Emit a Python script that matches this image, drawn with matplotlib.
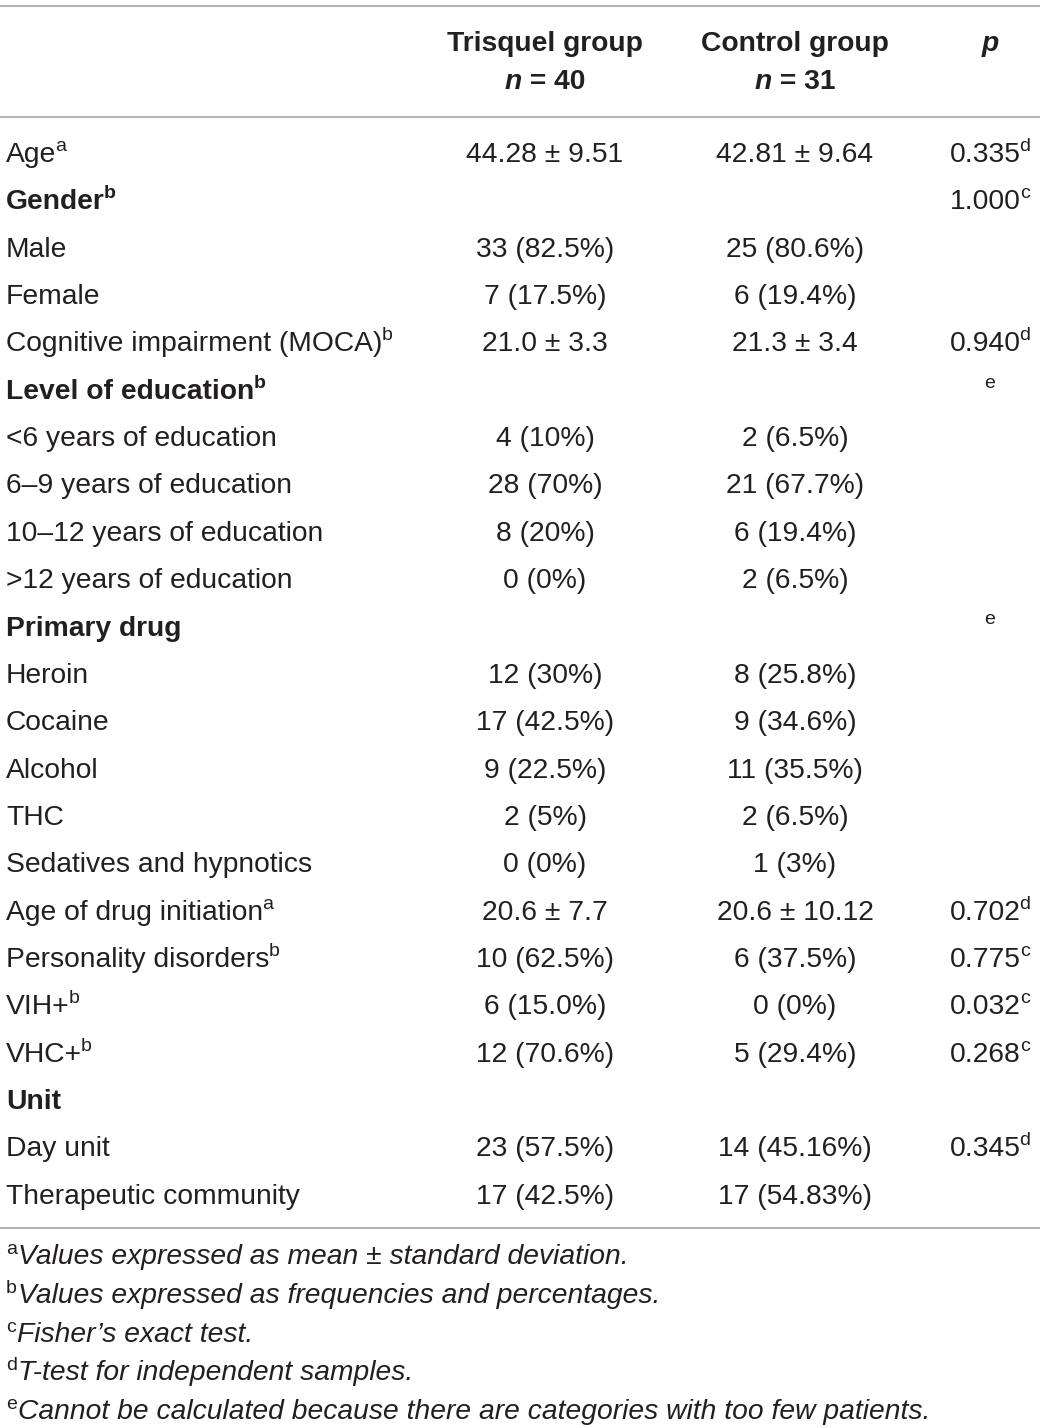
import matplotlib
matplotlib.use("Agg")
import matplotlib.pyplot as plt

# ---------------- data ----------------
col_headers = ["Trisquel group", "Control group", "p"]
col_n = ["40", "31"]

row_labels = ["Age", "Gender", "Male", "Female", "Cognitive impairment (MOCA)",
              "Level of education", "<6 years of education", "6–9 years of education",
              "10–12 years of education", ">12 years of education", "Primary drug",
              "Heroin", "Cocaine", "Alcohol", "THC", "Sedatives and hypnotics",
              "Age of drug initiation", "Personality disorders", "VIH+", "VHC+",
              "Unit", "Day unit", "Therapeutic community"]
row_sup = ["a", "b", "", "", "b", "b", "", "", "", "", "", "", "", "", "", "",
           "a", "b", "b", "b", "", "", ""]
row_bold = [False, True, False, False, False, True, False, False, False, False, True,
            False, False, False, False, False, False, False, False, False, True, False, False]
trisquel = ["44.28 ± 9.51", "", "33 (82.5%)", "7 (17.5%)", "21.0 ± 3.3", "", "4 (10%)",
            "28 (70%)", "8 (20%)", "0 (0%)", "", "12 (30%)", "17 (42.5%)", "9 (22.5%)",
            "2 (5%)", "0 (0%)", "20.6 ± 7.7", "10 (62.5%)", "6 (15.0%)", "12 (70.6%)",
            "", "23 (57.5%)", "17 (42.5%)"]
control = ["42.81 ± 9.64", "", "25 (80.6%)", "6 (19.4%)", "21.3 ± 3.4", "", "2 (6.5%)",
           "21 (67.7%)", "6 (19.4%)", "2 (6.5%)", "", "8 (25.8%)", "9 (34.6%)", "11 (35.5%)",
           "2 (6.5%)", "1 (3%)", "20.6 ± 10.12", "6 (37.5%)", "0 (0%)", "5 (29.4%)",
           "", "14 (45.16%)", "17 (54.83%)"]
p_vals = ["0.335", "1.000", "", "", "0.940", "", "", "", "", "", "", "", "", "", "",
          "", "0.702", "0.775", "0.032", "0.268", "", "0.345", ""]
p_sup = ["d", "c", "", "", "d", "e", "", "", "", "", "e", "", "", "", "", "",
         "d", "c", "c", "c", "", "d", ""]

footnote_sup = ["a", "b", "c", "d", "e"]
footnotes = ["Values expressed as mean ± standard deviation.",
             "Values expressed as frequencies and percentages.",
             "Fisher’s exact test.",
             "T-test for independent samples.",
             "Cannot be calculated because there are categories with too few patients."]

# ---------------- layout ----------------
W, H = 1040, 1428
FONT = "Liberation Sans"
FS = 20.3
SUP_FS = 14.0
TXT = "#231f20"
LINE = "#a6a6a6"

fig = plt.figure(figsize=(W / 100, H / 100), dpi=100)
ax = fig.add_axes([0, 0, 1, 1])
ax.set_xlim(0, W)
ax.set_ylim(H, 0)
ax.axis("off")
fig.canvas.draw()
renderer = fig.canvas.get_renderer()


def width_px(s, **kw):
    t = ax.text(0, 0, s, fontfamily=FONT, **kw)
    bb = t.get_window_extent(renderer=renderer)
    t.remove()
    return bb.width


def put(x, y, main, sup="", ha="left", weight="normal", style="normal",
        sup_style="normal"):
    wm = width_px(main, fontsize=FS, fontweight=weight, fontstyle=style) if main else 0
    ws = width_px(sup, fontsize=SUP_FS, fontweight=weight, fontstyle=sup_style) if sup else 0
    gap = -1 if (main and sup) else 0
    total = wm + gap + ws
    if ha == "center":
        x0 = x - total / 2
    elif ha == "right":
        x0 = x - total
    else:
        x0 = x
    if main:
        ax.text(x0, y, main, fontfamily=FONT, fontsize=FS, fontweight=weight,
                fontstyle=style, color=TXT, ha="left", va="baseline")
    if sup:
        ax.text(x0 + wm + gap, y - 11, sup, fontfamily=FONT, fontsize=SUP_FS,
                fontweight=weight, fontstyle=sup_style, color=TXT, ha="left",
                va="baseline")


X_LABEL = 6
X_C1 = 545
X_C2 = 795
X_P = 990

# rules
for yl in (6, 117, 1228):
    ax.plot([0, W], [yl, yl], color=LINE, lw=1.2, solid_capstyle="butt")

# header
HB1, HB2 = 51, 89
for xc, head in zip((X_C1, X_C2), col_headers[:2]):
    ax.text(xc, HB1, head, fontfamily=FONT, fontsize=FS, fontweight="bold",
            color=TXT, ha="center", va="baseline")
ax.text(X_P, HB1, col_headers[2], fontfamily=FONT, fontsize=FS, fontweight="bold",
        fontstyle="italic", color=TXT, ha="center", va="baseline")
for xc, n in zip((X_C1, X_C2), col_n):
    wn = width_px("n", fontsize=FS, fontweight="bold", fontstyle="italic")
    wr = width_px(" = " + n, fontsize=FS, fontweight="bold")
    x0 = xc - (wn + wr) / 2
    ax.text(x0, HB2, "n", fontfamily=FONT, fontsize=FS, fontweight="bold",
            fontstyle="italic", color=TXT, ha="left", va="baseline")
    ax.text(x0 + wn, HB2, " = " + n, fontfamily=FONT, fontsize=FS, fontweight="bold",
            color=TXT, ha="left", va="baseline")

# body rows
Y0 = 162
DY = 47.35
for i, lab in enumerate(row_labels):
    y = Y0 + i * DY
    put(X_LABEL, y, lab, row_sup[i], weight="bold" if row_bold[i] else "normal")
    if trisquel[i]:
        put(X_C1, y, trisquel[i], ha="center")
    if control[i]:
        put(X_C2, y, control[i], ha="center")
    if p_vals[i] or p_sup[i]:
        put(X_P, y, p_vals[i], p_sup[i], ha="center")

# footnotes
FY0 = 1264
FDY = 38.8
for i, (s, txt) in enumerate(zip(footnote_sup, footnotes)):
    ws = width_px(s, fontsize=SUP_FS)
    ax.text(X_LABEL, FY0 + i * FDY - 10, s, fontfamily=FONT, fontsize=SUP_FS,
            color=TXT, ha="left", va="baseline")
    ax.text(X_LABEL + ws + 1, FY0 + i * FDY, txt, fontfamily=FONT, fontsize=FS,
            fontstyle="italic", color=TXT, ha="left", va="baseline")

fig.savefig("out.png", dpi=100, facecolor="white")
